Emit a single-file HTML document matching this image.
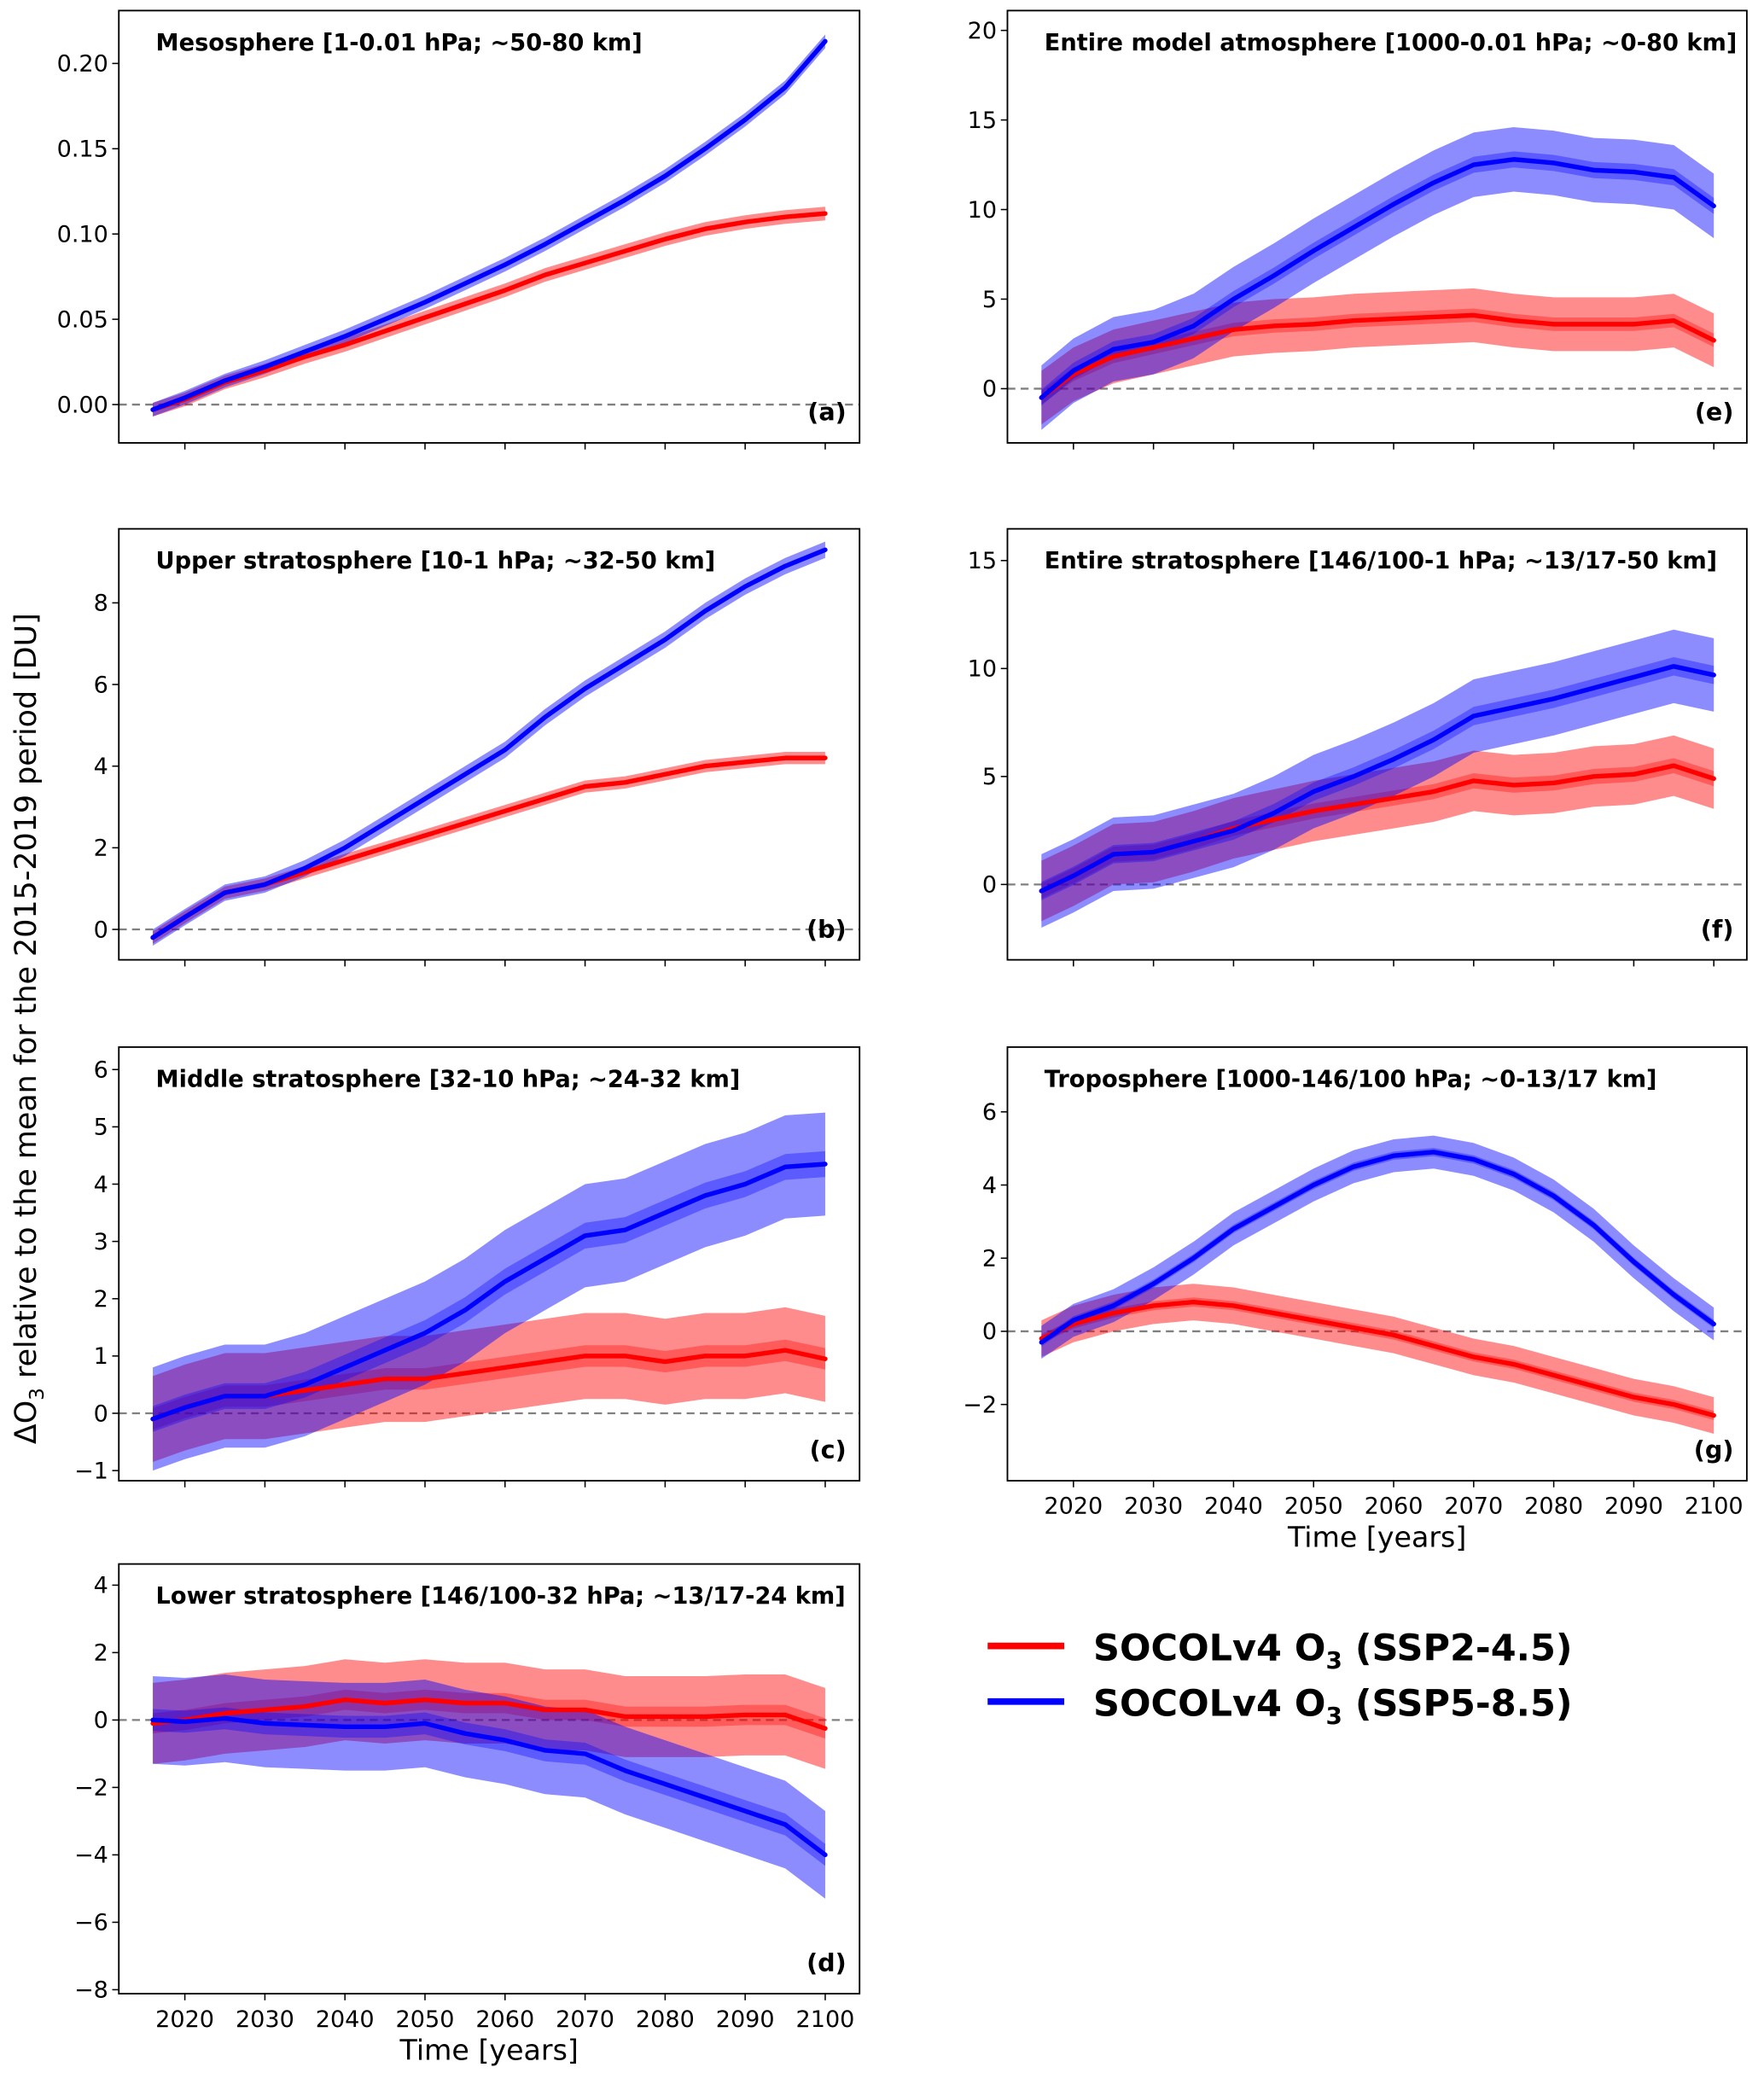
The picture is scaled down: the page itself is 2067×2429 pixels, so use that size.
<!DOCTYPE html>
<html><head><meta charset="utf-8"><style>
html,body{margin:0;padding:0;background:#fff;}
svg{display:block;font-family:"DejaVu Sans","Liberation Sans",sans-serif;}
</style></head><body>
<svg id="chart" width="2067" height="2429" viewBox="0 0 1336 1568" preserveAspectRatio="none" xmlns="http://www.w3.org/2000/svg">
<text transform="translate(27,778) rotate(-90)" text-anchor="middle" font-size="22.5">ΔO<tspan font-size="15" dy="6">3</tspan><tspan dy="-6"> relative to the mean for the 2015-2019 period [DU]</tspan></text>
<g>
<line x1="748" y1="1245" x2="806" y2="1245" stroke="#ff0000" stroke-width="5"/>
<text x="828" y="1256" font-size="27.8" font-weight="bold">SOCOLv4 O<tspan font-size="18" dy="6">3</tspan><tspan dy="-6"> (SSP2-4.5)</tspan></text>
<line x1="748" y1="1287" x2="806" y2="1287" stroke="#0000ff" stroke-width="5"/>
<text x="828" y="1298" font-size="27.8" font-weight="bold">SOCOLv4 O<tspan font-size="18" dy="6">3</tspan><tspan dy="-6"> (SSP5-8.5)</tspan></text>
</g>
</svg>
<script>
const years = [2016,2020,2025,2030,2035,2040,2045,2050,2055,2060,2065,2070,2075,2080,2085,2090,2095,2100];
const xTicks = [2020,2030,2040,2050,2060,2070,2080,2090,2100];
const aRed  = [-0.003,0.003,0.013,0.02,0.028,0.035,0.043,0.051,0.059,0.067,0.076,0.083,0.09,0.097,0.103,0.107,0.11,0.112];
const aBlue = [-0.003,0.004,0.014,0.022,0.031,0.04,0.05,0.06,0.071,0.082,0.094,0.107,0.12,0.134,0.15,0.167,0.186,0.213];
const eRed  = [-0.5,0.8,1.8,2.3,2.8,3.3,3.5,3.6,3.8,3.9,4.0,4.1,3.8,3.6,3.6,3.6,3.8,2.7];
const eBlue = [-0.5,1.0,2.2,2.6,3.5,5.0,6.3,7.7,9.0,10.3,11.5,12.5,12.8,12.6,12.2,12.1,11.8,10.2];
const bRed  = [-0.2,0.3,0.9,1.1,1.4,1.7,2.0,2.3,2.6,2.9,3.2,3.5,3.6,3.8,4.0,4.1,4.2,4.2];
const bBlue = [-0.2,0.3,0.9,1.1,1.5,2.0,2.6,3.2,3.8,4.4,5.2,5.9,6.5,7.1,7.8,8.4,8.9,9.3];
const fRed  = [-0.3,0.4,1.4,1.5,2.0,2.6,3.0,3.4,3.7,4.0,4.3,4.8,4.6,4.7,5.0,5.1,5.5,4.9];
const fBlue = [-0.3,0.4,1.4,1.5,2.0,2.5,3.3,4.3,5.0,5.8,6.7,7.8,8.2,8.6,9.1,9.6,10.1,9.7];
const cRed  = [-0.1,0.1,0.3,0.3,0.4,0.5,0.6,0.6,0.7,0.8,0.9,1.0,1.0,0.9,1.0,1.0,1.1,0.95];
const cBlue = [-0.1,0.1,0.3,0.3,0.5,0.8,1.1,1.4,1.8,2.3,2.7,3.1,3.2,3.5,3.8,4.0,4.3,4.35];
const gRed  = [-0.2,0.2,0.5,0.7,0.8,0.7,0.5,0.3,0.1,-0.1,-0.4,-0.7,-0.9,-1.2,-1.5,-1.8,-2.0,-2.3];
const gBlue = [-0.3,0.3,0.7,1.3,2.0,2.8,3.4,4.0,4.5,4.8,4.9,4.7,4.3,3.7,2.9,1.9,1.0,0.2];
const dRed  = [-0.1,0.0,0.2,0.3,0.4,0.6,0.5,0.6,0.5,0.5,0.3,0.3,0.1,0.1,0.1,0.15,0.15,-0.25];
const dBlue = [0.0,-0.05,0.05,-0.1,-0.15,-0.2,-0.2,-0.1,-0.4,-0.6,-0.9,-1.0,-1.5,-1.9,-2.3,-2.7,-3.1,-4.0];
const spreadRed  = {a:0.004,e:1.5,b:0.15,f:1.4,c:0.75,g:0.5,d:1.2};
const spreadBlue = {a:0.004,e:1.8,b:0.2,f:1.7,c:0.9,g:0.45,d:1.3};
const aTicks=[0,0.05,0.1,0.15,0.2], aTickLabels=["0.00","0.05","0.10","0.15","0.20"];
const eTicks=[0,5,10,15,20], bTicks=[0,2,4,6,8], fTicks=[0,5,10,15];
const cTicks=[-1,0,1,2,3,4,5,6], gTicks=[-2,0,2,4,6], dTicks=[-8,-6,-4,-2,0,2,4];

const panels = [
 {id:'a',x0:90,x1:651,y0:8,y1:335,v0:0,p0:306,v1:0.2,p1:48,ticks:aTicks,labels:aTickLabels,red:aRed,blue:aBlue,title:'Mesosphere [1-0.01 hPa; ~50-80 km]',xl:false},
 {id:'e',x0:763,x1:1323,y0:8,y1:335,v0:0,p0:294,v1:20,p1:23,ticks:eTicks,red:eRed,blue:eBlue,title:'Entire model atmosphere [1000-0.01 hPa; ~0-80 km]',xl:false},
 {id:'b',x0:90,x1:651,y0:400,y1:726,v0:0,p0:703,v1:8,p1:456,ticks:bTicks,red:bRed,blue:bBlue,title:'Upper stratosphere [10-1 hPa; ~32-50 km]',xl:false},
 {id:'f',x0:763,x1:1323,y0:400,y1:726,v0:0,p0:669,v1:15,p1:424,ticks:fTicks,red:fRed,blue:fBlue,title:'Entire stratosphere [146/100-1 hPa; ~13/17-50 km]',xl:false},
 {id:'c',x0:90,x1:651,y0:792,y1:1120,v0:0,p0:1069,v1:6,p1:809,ticks:cTicks,red:cRed,blue:cBlue,title:'Middle stratosphere [32-10 hPa; ~24-32 km]',xl:false},
 {id:'g',x0:763,x1:1323,y0:792,y1:1120,v0:0,p0:1007,v1:6,p1:841,ticks:gTicks,red:gRed,blue:gBlue,title:'Troposphere [1000-146/100 hPa; ~0-13/17 km]',xl:true},
 {id:'d',x0:90,x1:651,y0:1183,y1:1508,v0:0,p0:1301,v1:-8,p1:1505,ticks:dTicks,red:dRed,blue:dBlue,title:'Lower stratosphere [146/100-32 hPa; ~13/17-24 km]',xl:true}
];
const NS='http://www.w3.org/2000/svg';
const svg=document.getElementById('chart');
function mk(tag,attrs,parent){const e=document.createElementNS(NS,tag);for(const k in attrs)e.setAttribute(k,attrs[k]);parent.appendChild(e);return e;}
function fmtMinus(v){return String(v).replace('-','\u2212');}
panels.forEach(p=>{
  const g=mk('g',{},svg);
  
  
  const off = p.x0===90 ? 0 : 673;
  const xs=y=>140+off+(y-2020)*(625-140)/80;
  const ys=v=>p.p0+(v-p.v0)*(p.p1-p.p0)/(p.v1-p.v0);
  const z=mk('line',{x1:p.x0,x2:p.x1,y1:ys(0),y2:ys(0),stroke:'#808080','stroke-width':1.5,'stroke-dasharray':'6,4'},g);
  
  
  [['red',p.red,'#ff0000',spreadRed[p.id]],['blue',p.blue,'#0000ff',spreadBlue[p.id]]].forEach(([nm,arr,col,sp])=>{
    const top=arr.map((v,i)=>xs(years[i])+','+ys(v+sp));
    const bot=arr.map((v,i)=>xs(years[i])+','+ys(v-sp)).reverse();
    const band=mk('polygon',{points:top.concat(bot).join(' '),fill:col,'fill-opacity':0.45,stroke:'none'},g);
    
    
    const top2=arr.map((v,i)=>xs(years[i])+','+ys(v+sp*0.25));
    const bot2=arr.map((v,i)=>xs(years[i])+','+ys(v-sp*0.25)).reverse();
    const band2=mk('polygon',{points:top2.concat(bot2).join(' '),fill:col,'fill-opacity':0.35,stroke:'none'},g);
    
    
  });
  [['red',p.red,'#ff0000'],['blue',p.blue,'#0000ff']].forEach(([nm,arr,col])=>{
    const ln=mk('polyline',{points:arr.map((v,i)=>xs(years[i])+','+ys(v)).join(' '),fill:'none',stroke:col,'stroke-width':3.5,'stroke-linejoin':'round','stroke-linecap':'round'},g);
    
    
  });
  const fr=mk('rect',{x:p.x0,y:p.y0,width:p.x1-p.x0,height:p.y1-p.y0,fill:'none',stroke:'#000','stroke-width':1.2},g);
  
  
  p.ticks.forEach((t,i)=>{
    const y=ys(t);
    const tk=mk('line',{x1:p.x0-5,x2:p.x0,y1:y,y2:y,stroke:'#000','stroke-width':1},g);
    
    
    const tl=mk('text',{x:p.x0-8,y:y+6,'text-anchor':'end','font-size':17.5},g);
    
    
    tl.textContent=p.labels?p.labels[i]:fmtMinus(t);
  });
  xTicks.forEach(t=>{
    const x=xs(t);
    const tk=mk('line',{x1:x,x2:x,y1:p.y1,y2:p.y1+5,stroke:'#000','stroke-width':1},g);
    
    
    if(p.xl){
      const tl=mk('text',{x:x,y:p.y1+25,'text-anchor':'middle','font-size':17.5},g);
      
      
      tl.textContent=t;
    }
  });
  if(p.xl){
    const xt=mk('text',{x:(p.x0+p.x1)/2,y:p.y1+50,'text-anchor':'middle','font-size':21.5},g);
    
    
    xt.textContent='Time [years]';
  }
  const ti=mk('text',{x:p.x0+28,y:p.y0+30,'font-size':17.6,'font-weight':'bold'},g);
  
  
  ti.textContent=p.title;
  const lb=mk('text',{x:p.x1-10,y:p.y1-17,'text-anchor':'end','font-size':18.5,'font-weight':'bold'},g);
  
  
  lb.textContent='('+p.id+')';
});
</script>
</body></html>
